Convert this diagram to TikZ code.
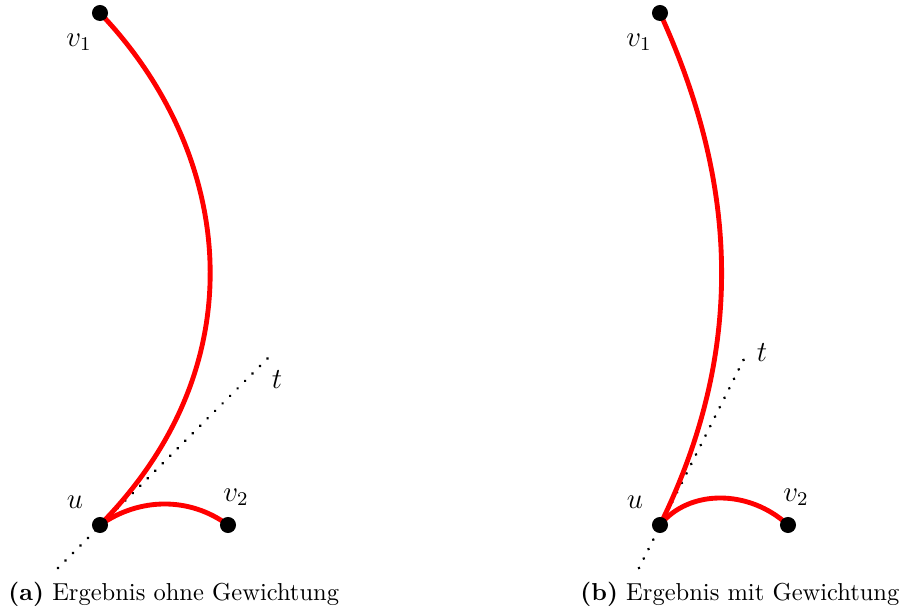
\documentclass[tikz,border=0pt]{standalone}
\usetikzlibrary{backgrounds}
\tikzset{
  vdot/.style={circle,fill=black,inner sep=0pt,minimum size=6.6pt},
  redge/.style={draw=red,line width=2pt},
  tline/.style={line width=1.25pt,dash pattern=on 0.01pt off 4.35pt,line cap=round},
  vlabel/.style={font=\large},
  capt/.style={anchor=base west,inner sep=0pt,font=\fontsize{10.1}{12}\selectfont}
}
\begin{document}
\begin{tikzpicture}[x=0.412pt,y=-0.412pt]
\useasboundingbox (0,0) rectangle (901,611);
% left
\node[vdot] (v1a) at (100,13) {};
\node[vdot] (ua) at (100,525) {};
\node[vdot] (v2a) at (228,525) {};
\coordinate (tsa) at (58,568);
\coordinate (tea) at (270,356);
\node[vlabel] (lv1a) at (79,42) {$v_1$};
\node[vlabel] (lua) at (75,502) {$u$};
\node[vlabel] (lv2a) at (236,497) {$v_2$};
\node[vlabel] (lta) at (277,380) {$t$};
% right
\node[vdot] (v1b) at (660,13) {};
\node[vdot] (ub) at (660,525) {};
\node[vdot] (v2b) at (788,525) {};
\coordinate (tsb) at (639,568);
\coordinate (teb) at (745,357);
\node[vlabel] (lv1b) at (639,42) {$v_1$};
\node[vlabel] (lub) at (635,502) {$u$};
\node[vlabel] (lv2b) at (796,497) {$v_2$};
\node[vlabel] (ltb) at (762,353) {$t$};
\begin{scope}[on background layer]
\draw[tline] (tsa) -- (tea);
\draw[tline] (tsb) -- (teb);
\draw[redge] (ua.center) .. controls (262,361) and (231,150) .. (v1a.center);
\draw[redge] (ua.center) .. controls (140,497) and (190,497) .. (v2a.center);
\draw[redge] (ub.center) .. controls (756,330) and (727,160) .. (v1b.center);
\draw[redge] (ub.center) .. controls (689,489) and (749,489) .. (v2b.center);
\end{scope}
\node[capt] (capa) at (8,601) {\textbf{(a)} Ergebnis ohne Gewichtung};
\node[capt] (capb) at (580,601) {\textbf{(b)} Ergebnis mit Gewichtung};
\end{tikzpicture}
\end{document}
